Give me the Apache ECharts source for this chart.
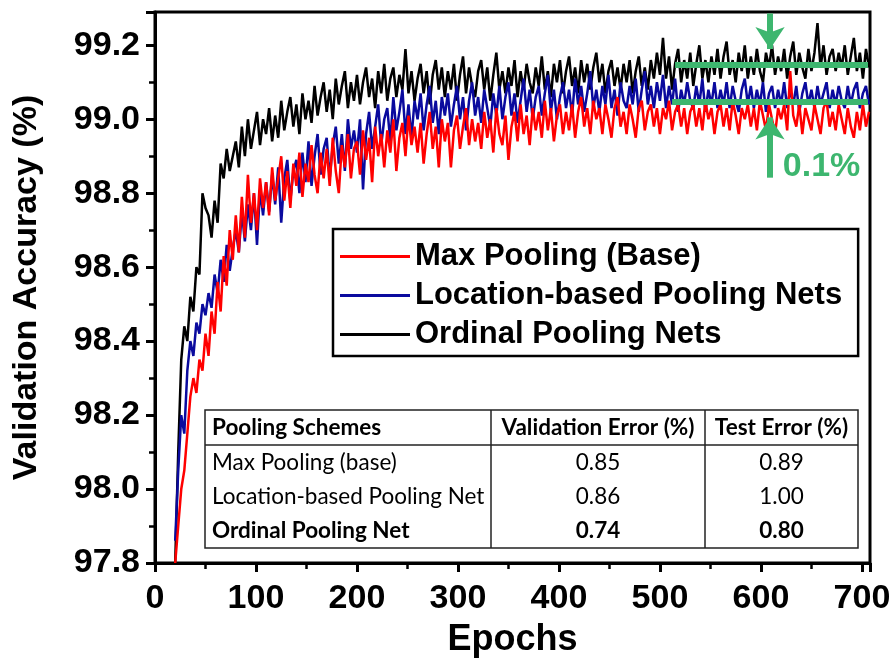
<!DOCTYPE html>
<html><head><meta charset="utf-8">
<script src="https://cdn.jsdelivr.net/npm/echarts@6/dist/echarts.min.js"></script>
<style>html,body{margin:0;padding:0;background:#fff}#c{width:896px;height:663px}</style>
</head><body><div id="c"></div>
<script>
const seriesNames = ['Max Pooling (Base)', 'Location-based Pooling Nets', 'Ordinal Pooling Nets'];
const seriesColors = ['#ff0000', '#0a0a9e', '#000000'];
const epochStart = 20, epochStep = 3;

const maxPooling = [
97.80,97.90,98.00,98.05,98.15,98.25,98.30,98.26,98.35,98.32,
98.42,98.36,98.48,98.42,98.56,98.48,98.63,98.55,98.70,98.62,
98.74,98.64,98.79,98.68,98.85,98.72,98.80,98.70,98.84,98.76,
98.83,98.74,98.87,98.78,98.84,98.90,98.78,98.86,98.76,98.88,
98.82,98.91,98.79,98.88,98.83,98.93,98.85,98.80,98.91,98.84,
98.92,98.82,98.95,98.86,98.80,98.93,98.87,98.96,98.84,98.92,
98.94,98.85,98.97,98.89,98.95,98.83,98.98,98.90,98.96,98.87,
98.97,98.91,99.00,98.86,98.95,98.99,98.90,99.01,98.93,98.98,
98.91,98.99,98.88,98.96,99.02,98.92,98.98,98.87,99.00,98.94,
98.99,98.87,98.97,99.01,98.92,98.98,99.03,98.93,99.00,98.94,
98.99,98.92,99.02,98.95,99.00,98.91,99.03,98.96,98.93,99.01,
98.89,98.98,99.02,98.94,99.04,98.96,99.01,98.93,99.03,98.97,
99.02,98.95,99.05,98.97,99.03,98.94,99.01,99.04,98.96,99.02,
98.97,99.04,98.95,99.02,99.06,98.98,99.03,98.96,99.05,99.00,
99.03,98.96,99.04,99.00,98.95,99.03,99.06,98.98,99.02,98.96,
99.04,99.00,98.95,99.03,99.05,98.97,99.02,99.04,98.98,99.03,
98.96,99.03,99.00,99.05,98.97,99.02,99.04,98.98,99.03,98.96,
99.02,99.04,98.98,99.03,98.97,99.05,99.00,99.03,98.96,99.02,
99.04,98.98,99.03,98.97,99.05,99.01,98.96,99.03,99.00,99.04,
98.98,99.03,98.97,99.05,99.01,98.97,99.04,99.00,98.96,99.03,
99.00,99.04,98.97,99.13,99.01,98.98,99.04,98.96,99.03,99.00,
98.97,99.04,99.00,98.96,99.03,99.05,98.98,99.02,98.97,99.04,
99.00,98.96,99.03,98.98,98.95,99.02,98.97,99.04,98.98,99.02
];

const locationPooling = [
97.86,98.05,98.20,98.15,98.32,98.40,98.36,98.45,98.42,98.50,
98.47,98.53,98.49,98.58,98.53,98.62,98.56,98.66,98.59,98.65,
98.70,98.64,98.75,98.67,98.77,98.70,98.80,98.66,98.81,98.74,
98.83,98.75,98.85,98.77,98.87,98.72,98.84,98.89,98.78,98.86,
98.89,98.80,98.91,98.83,98.94,98.82,98.90,98.96,98.85,98.92,
98.95,98.84,98.93,98.98,98.88,98.96,98.86,99.00,98.92,98.97,
98.91,99.00,98.81,98.96,99.02,98.92,98.98,99.04,98.93,99.00,
99.03,98.94,99.06,98.97,99.02,99.08,98.96,99.04,98.95,99.05,
99.00,99.07,98.97,99.04,99.09,98.99,99.05,98.96,99.06,99.01,
99.07,98.98,99.04,99.09,99.00,99.06,98.97,99.05,99.10,99.01,
99.06,98.99,99.08,99.03,98.98,99.07,99.01,99.09,99.00,99.06,
99.10,99.01,99.07,98.99,99.05,99.11,99.02,99.08,99.00,99.06,
99.09,99.01,99.07,99.12,99.02,99.08,99.00,99.06,99.10,99.03,
99.08,99.01,99.11,99.04,99.09,99.02,99.07,99.13,99.03,99.08,
99.02,99.09,99.04,99.12,99.03,99.08,99.01,99.10,99.05,99.03,
99.09,99.04,99.11,99.02,99.08,99.13,99.04,99.09,99.03,99.10,
99.05,99.12,99.03,99.09,99.04,99.11,99.02,99.08,99.04,99.10,
99.05,99.03,99.09,99.04,99.11,99.02,99.08,99.04,99.10,99.03,
99.08,99.04,99.10,99.03,99.09,99.05,99.02,99.08,99.11,99.04,
99.09,99.03,99.08,99.04,99.10,99.02,99.07,99.09,99.03,99.08,
99.04,99.10,99.03,99.08,99.04,99.09,99.02,99.07,99.10,99.04,
99.08,99.03,99.09,99.04,99.07,99.10,99.03,99.08,99.04,99.09,
99.05,99.03,99.09,99.04,99.08,99.10,99.03,99.07,99.09,99.04
];

const ordinalPooling = [
97.80,98.10,98.35,98.44,98.40,98.52,98.48,98.60,98.58,98.80,
98.76,98.74,98.68,98.78,98.72,98.88,98.84,98.92,98.86,98.90,
98.94,98.87,98.98,98.90,99.00,98.92,98.97,99.02,98.93,99.00,
98.96,99.03,98.94,99.01,98.95,99.05,98.97,99.02,99.06,98.98,
99.04,98.96,99.07,99.00,99.05,98.99,99.09,99.01,99.06,99.10,
99.02,99.08,99.00,99.11,99.04,99.09,99.13,99.03,99.10,99.05,
99.12,99.04,99.10,99.14,99.06,99.11,99.03,99.13,99.07,99.15,
99.05,99.11,99.14,99.06,99.12,99.08,99.19,99.07,99.13,99.05,
99.11,99.15,99.07,99.13,99.04,99.12,99.16,99.08,99.14,99.06,
99.13,99.08,99.15,99.05,99.12,99.17,99.07,99.14,99.09,99.06,
99.13,99.16,99.08,99.14,99.05,99.12,99.18,99.08,99.13,99.07,
99.14,99.09,99.16,99.06,99.13,99.08,99.15,99.10,99.07,99.14,
99.09,99.17,99.08,99.13,99.06,99.15,99.10,99.16,99.07,99.13,
99.17,99.09,99.14,99.07,99.16,99.10,99.15,99.08,99.14,99.18,
99.10,99.15,99.07,99.13,99.16,99.09,99.14,99.08,99.15,99.10,
99.16,99.07,99.13,99.17,99.09,99.14,99.08,99.16,99.11,99.18,
99.12,99.22,99.11,99.17,99.08,99.15,99.19,99.10,99.16,99.11,
99.18,99.09,99.15,99.20,99.11,99.16,99.10,99.17,99.12,99.19,
99.11,99.17,99.21,99.12,99.16,99.10,99.18,99.13,99.20,99.11,
99.17,99.12,99.19,99.13,99.10,99.18,99.14,99.20,99.12,99.17,
99.13,99.19,99.11,99.17,99.21,99.12,99.18,99.14,99.11,99.19,
99.13,99.18,99.26,99.14,99.20,99.12,99.17,99.19,99.13,99.18,
99.14,99.20,99.12,99.17,99.22,99.13,99.18,99.11,99.19,99.14
];

const tableHeader = ['Pooling Schemes', 'Validation Error (%)', 'Test Error (%)'];
const tableSchemes = ['Max Pooling (base)', 'Location-based Pooling Net', 'Ordinal Pooling Net'];
const tableValErr = ['0.85', '0.86', '0.74'];
const tableTestErr = ['0.89', '1.00', '0.80'];
const annotText = '0.1%';
const annotLevels = [99.147, 99.047];

const toPairs = arr => arr.map((v, i) => [epochStart + i * epochStep, v]);

const GREEN = '#3db66f';
const FONT = 'Liberation Sans, Arial, sans-serif';
const TFONT = 'Lato, Noto Sans, sans-serif';
const TSIZE = '22.5px ';

const chart = echarts.init(document.getElementById('c'), null, {renderer: 'canvas'});

// table graphic
const tX = 205, tY = 410, tW = 653, tH = 138, hH = 35, c1 = 491, c2 = 705;
const rowCY = [463, 497, 531];
const tableEls = [
  {type: 'rect', shape: {x: tX, y: tY, width: tW, height: tH}, style: {fill: '#fff', stroke: '#222', lineWidth: 1.5}},
  {type: 'line', shape: {x1: tX, y1: tY + hH, x2: tX + tW, y2: tY + hH}, style: {stroke: '#222', lineWidth: 1.5}},
  {type: 'line', shape: {x1: c1, y1: tY, x2: c1, y2: tY + tH}, style: {stroke: '#222', lineWidth: 1.5}},
  {type: 'line', shape: {x1: c2, y1: tY, x2: c2, y2: tY + tH}, style: {stroke: '#222', lineWidth: 1.5}},
  {type: 'text', x: tX + 7, y: tY + hH / 2, style: {text: tableHeader[0], font: 'bold ' + TSIZE + TFONT, fill: '#000', textVerticalAlign: 'middle', textAlign: 'left'}},
  {type: 'text', x: (c1 + c2) / 2, y: tY + hH / 2, style: {text: tableHeader[1], font: 'bold ' + TSIZE + TFONT, fill: '#000', textVerticalAlign: 'middle', textAlign: 'center'}},
  {type: 'text', x: (c2 + tX + tW) / 2, y: tY + hH / 2, style: {text: tableHeader[2], font: 'bold ' + TSIZE + TFONT, fill: '#000', textVerticalAlign: 'middle', textAlign: 'center'}}
];
tableSchemes.forEach((s, i) => {
  const w = i === 2 ? 'bold ' : '';
  tableEls.push({type: 'text', x: tX + 7, y: rowCY[i], style: {text: s, font: w + TSIZE + TFONT, fill: '#000', textVerticalAlign: 'middle', textAlign: 'left'}});
  tableEls.push({type: 'text', x: (c1 + c2) / 2, y: rowCY[i], style: {text: tableValErr[i], font: w + TSIZE + TFONT, fill: '#000', textVerticalAlign: 'middle', textAlign: 'center'}});
  tableEls.push({type: 'text', x: (c2 + tX + tW) / 2, y: rowCY[i], style: {text: tableTestErr[i], font: w + TSIZE + TFONT, fill: '#000', textVerticalAlign: 'middle', textAlign: 'center'}});
});

const lineSeries = (name, data, color, extra) => Object.assign({
  name: name, type: 'line', data: toPairs(data), showSymbol: false, symbol: 'none',
  lineStyle: {color: color, width: 2.5}, itemStyle: {color: color},
  emphasis: {disabled: true}, animation: false, clip: true
}, extra || {});

const option = {
  animation: false,
  backgroundColor: '#fff',
  grid: {left: 155, right: 26, top: 12, bottom: 95, show: true, borderColor: '#000', borderWidth: 3, backgroundColor: 'transparent'},
  legend: {
    data: seriesNames, orient: 'vertical', left: 333, top: 229,
    icon: 'rect', itemWidth: 70, itemHeight: 3, itemGap: 8,
    padding: [12, 16, 6, 7],
    borderColor: '#000', borderWidth: 2.5, backgroundColor: '#fff',
    textStyle: {fontFamily: FONT, fontWeight: 'bold', fontSize: 31, color: '#000'},
    selectedMode: false, z: 5
  },
  xAxis: {
    type: 'value', min: 0, max: 708, interval: 100,
    axisLine: {show: true, onZero: false, lineStyle: {color: '#000', width: 3}},
    axisTick: {show: true, length: 9, lineStyle: {color: '#000', width: 3}},
    minorTick: {show: true, splitNumber: 2, length: 6, lineStyle: {color: '#000', width: 2.5}},
    splitLine: {show: false},
    axisLabel: {showMaxLabel: false, fontFamily: FONT, fontWeight: 'bold', fontSize: 34, color: '#000', margin: 19},
    name: 'Epochs', nameLocation: 'middle', nameGap: 59,
    nameTextStyle: {fontFamily: FONT, fontWeight: 'bold', fontSize: 36, color: '#000'}
  },
  yAxis: {
    type: 'value', min: 97.8, max: 99.29, interval: 0.2,
    axisLine: {show: true, onZero: false, lineStyle: {color: '#000', width: 3}},
    axisTick: {show: true, length: 9, lineStyle: {color: '#000', width: 3}},
    minorTick: {show: true, splitNumber: 2, length: 6, lineStyle: {color: '#000', width: 2.5}},
    splitLine: {show: false},
    axisLabel: {showMaxLabel: false, formatter: v => v.toFixed(1), fontFamily: FONT, fontWeight: 'bold', fontSize: 34, color: '#000', margin: 15},
    name: 'Validation Accuracy (%)', nameLocation: 'middle', nameGap: 111,
    nameTextStyle: {fontFamily: FONT, fontWeight: 'bold', fontSize: 34, color: '#000'}
  },
  graphic: [{type: 'group', z: 10, children: tableEls}],
  series: [
    lineSeries(seriesNames[2], ordinalPooling, seriesColors[2]),
    lineSeries(seriesNames[1], locationPooling, seriesColors[1]),
    lineSeries(seriesNames[0], maxPooling, seriesColors[0], {
      markLine: {
        silent: true, animation: false, symbol: 'none', label: {show: false},
        emphasis: {disabled: true},
        lineStyle: {color: GREEN, width: 6, type: 'solid'},
        data: [
          [{coord: [515, annotLevels[0]]}, {coord: [706, annotLevels[0]]}],
          [{coord: [512, annotLevels[1]]}, {coord: [706, annotLevels[1]]}],
          [{coord: [609, 99.286], symbol: 'none'}, {coord: [609, 99.19], symbol: 'arrow', symbolSize: [22, 22]}],
          [{coord: [609, 98.842], symbol: 'none'}, {coord: [609, 99.005], symbol: 'arrow', symbolSize: [22, 22]}]
        ]
      },
      markPoint: {
        silent: true, animation: false, symbol: 'circle', symbolSize: 0,
        label: {show: true, position: 'inside', formatter: annotText, color: GREEN, fontFamily: FONT, fontWeight: 'bold', fontSize: 34},
        data: [{coord: [660, 98.873]}]
      }
    })
  ]
};
chart.setOption(option);
</script>
</body></html>
